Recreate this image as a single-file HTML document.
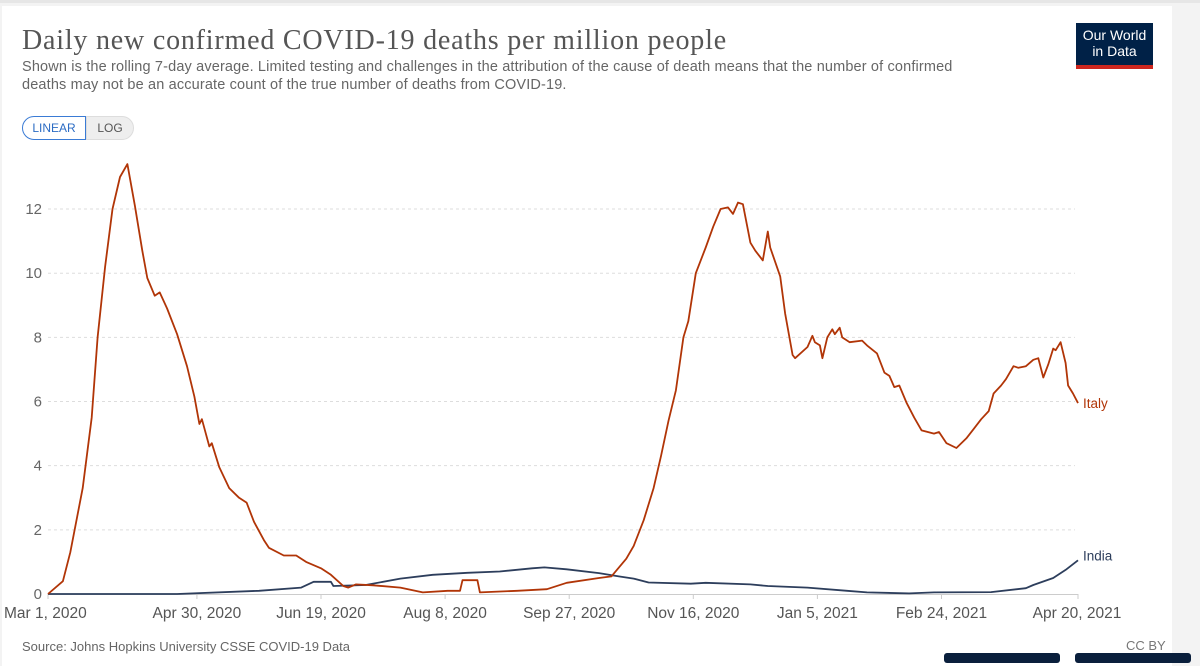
<!DOCTYPE html>
<html><head><meta charset="utf-8"><style>
body{margin:0;width:1200px;height:658px;overflow:hidden;background:#f3f3f3;font-family:"Liberation Sans",sans-serif;position:relative}
#card{position:absolute;left:2px;top:6px;width:1170px;height:660px;background:#fff}
#topline{position:absolute;left:0;top:0;width:1200px;height:3px;background:#e6e6e6}
.t{position:absolute;white-space:nowrap}
</style></head><body>
<div id="topline"></div>
<div id="card"></div>
<div class="t" style="left:22px;top:25px;font-family:'Liberation Serif',serif;font-size:28px;letter-spacing:0.8px;color:#555">Daily new confirmed COVID-19 deaths per million people</div>
<div class="t" style="left:22px;top:58px;font-size:14.5px;line-height:18px;letter-spacing:0.15px;color:#666">Shown is the rolling 7-day average. Limited testing and challenges in the attribution of the cause of death means that the number of confirmed<br>deaths may not be an accurate count of the true number of deaths from COVID-19.</div>
<div style="position:absolute;left:1076px;top:23px;width:77px;height:46px;background:#002147;color:#fff;font-size:14px;line-height:16px;text-align:center;border-bottom:4px solid #ce261e;box-sizing:border-box;padding-top:4px">Our World<br>in Data</div>
<div style="position:absolute;left:22px;top:116px;width:64px;height:24px;border:1px solid #3a7bd5;border-radius:12px 0 0 12px;box-sizing:border-box;color:#2c6cc4;font-size:12px;line-height:22px;text-align:center">LINEAR</div>
<div style="position:absolute;left:86px;top:116px;width:48px;height:24px;background:#eee;border:1px solid #ddd;border-radius:0 12px 12px 0;box-sizing:border-box;color:#555;font-size:12px;line-height:22px;text-align:center">LOG</div>
<svg id="chart" width="1200" height="658" style="position:absolute;left:0;top:0"></svg>
<div class="t" style="left:22px;top:639px;font-size:13px;color:#666">Source: Johns Hopkins University CSSE COVID-19 Data</div>
<div class="t" style="left:1126px;top:638px;font-size:13px;color:#777">CC BY</div>
<div style="position:absolute;left:944px;top:653px;width:116px;height:10px;background:#0a1f3c;border-radius:3px"></div>
<div style="position:absolute;left:1075px;top:653px;width:116px;height:10px;background:#0a1f3c;border-radius:3px"></div>
<script>
const yTicks=[0,2,4,6,8,10,12];
const xTickDays=[0,60,110,160,210,260,310,360,415];
const xTickLabels=["Mar 1, 2020","Apr 30, 2020","Jun 19, 2020","Aug 8, 2020","Sep 27, 2020","Nov 16, 2020","Jan 5, 2021","Feb 24, 2021","Apr 20, 2021"];
const italyDays=[0,6,9,14,17.6,20,23,26,29,32,35,38,40,43,45,48,52,56,59,61,62,65,66,69,73,77,80,83,87,89,95,100,104,110,114,119,121,124,131,142,151,161,166,167,173,174,189,201,209,222,227,233,236,240,244,247,250,253,256,258,261,265,268,271,274,276,278,280,283,285,288,290,291,295,297,300,301,306,308,309,311,312,314,316,317,319,320,323,328,330,334,337,339,341,343,346,349,352,357,359,362,366,370,373,376,379,381,384,386,389,391,394,397,399,401,403,405,406,408,410,411,413,415];
const italyVals=[0,0.4,1.3,3.3,5.5,8,10.2,12,13,13.4,12.1,10.7,9.85,9.3,9.4,8.9,8.1,7.1,6.15,5.3,5.45,4.6,4.7,3.95,3.3,3.0,2.85,2.25,1.68,1.44,1.2,1.2,1.0,0.8,0.6,0.25,0.2,0.3,0.27,0.2,0.05,0.1,0.1,0.43,0.43,0.05,0.1,0.15,0.35,0.5,0.55,1.1,1.5,2.3,3.3,4.3,5.4,6.35,8.0,8.5,10,10.8,11.45,12.0,12.05,11.85,12.2,12.15,10.95,10.7,10.4,11.3,10.8,9.9,8.75,7.45,7.35,7.7,8.05,7.85,7.75,7.35,8.0,8.25,8.1,8.3,8.0,7.85,7.9,7.75,7.5,6.9,6.8,6.45,6.5,5.95,5.5,5.1,5.0,5.05,4.7,4.55,4.85,5.15,5.45,5.7,6.25,6.5,6.7,7.1,7.05,7.1,7.3,7.35,6.75,7.15,7.65,7.6,7.85,7.2,6.5,6.25,5.95];
const indiaDays=[0,52,85,102,107,114,115,128,142,155,169,182,195,200,209,222,230,236,242,259,265,283,290,306,322,330,347,357,380,394,397,405,410,415];
const indiaVals=[0,0,0.1,0.2,0.38,0.38,0.25,0.28,0.48,0.6,0.66,0.7,0.8,0.83,0.77,0.65,0.55,0.48,0.36,0.32,0.35,0.3,0.25,0.2,0.1,0.05,0.02,0.05,0.06,0.18,0.28,0.5,0.75,1.05];
const X0=48,X1=1078,Y0=594,PPU=32.08;
const xs=d=>X0+d*(X1-X0)/415;
const ys=v=>Y0-v*PPU;
const svg=document.getElementById('chart');
const NS='http://www.w3.org/2000/svg';
function mk(tag,attrs){const e=document.createElementNS(NS,tag);for(const k in attrs)e.setAttribute(k,attrs[k]);svg.appendChild(e);return e;}
yTicks.forEach(v=>{
  if(v>0){const g=mk('line',{x1:X0,x2:1075,y1:ys(v),y2:ys(v),stroke:'#ddd','stroke-dasharray':'3,3'});
  
  }
  const t=mk('text',{x:42,y:ys(v)+5,'text-anchor':'end','font-size':15,fill:'#666','font-family':'Liberation Sans, sans-serif'});
  t.textContent=v;
  
  
});
const ax=mk('line',{x1:X0,x2:X1,y1:Y0+0.5,y2:Y0+0.5,stroke:'#ccc'});


xTickDays.forEach((d,i)=>{
  const tk=mk('line',{x1:xs(d),x2:xs(d),y1:Y0,y2:Y0+5,stroke:'#ccc'});
  
  
  let anchor='middle',x=xs(d);
  if(i==0){anchor='start';x=4;}
  if(i==xTickDays.length-1){anchor='middle';x=xs(d)-1;}
  const t=mk('text',{x:x,y:618,'text-anchor':anchor,'font-size':15.5,fill:'#555','font-family':'Liberation Sans, sans-serif'});
  t.textContent=xTickLabels[i];
  
  
});
function line(days,vals,color,name){
  const d=days.map((dd,i)=>(i?'L':'M')+xs(dd).toFixed(1)+','+ys(vals[i]).toFixed(1)).join('');
  const p=mk('path',{d:d,fill:'none',stroke:color,'stroke-width':1.8,'stroke-linejoin':'round'});
  
  
}
line(indiaDays,indiaVals,'#2d3e5c','india-line');
line(italyDays,italyVals,'#b13507','italy-line');
const li=mk('text',{x:X1+5,y:ys(italyVals[italyVals.length-1])+5,'font-size':13.5,fill:'#b13507','font-family':'Liberation Sans, sans-serif'});
li.textContent='Italy';


const ln=mk('text',{x:X1+5,y:ys(indiaVals[indiaVals.length-1]),'font-size':13.5,fill:'#2d3e5c','font-family':'Liberation Sans, sans-serif'});
ln.textContent='India';


</script>
</body></html>
